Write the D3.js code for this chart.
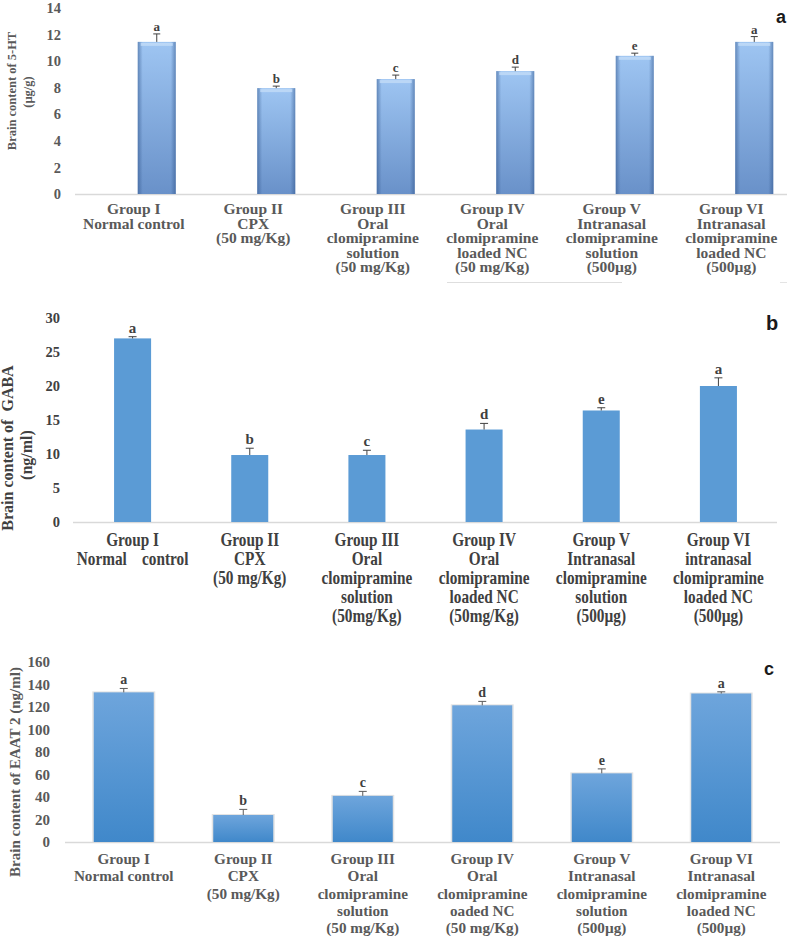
<!DOCTYPE html>
<html>
<head>
<meta charset="utf-8">
<script src="https://cdn.jsdelivr.net/npm/d3@7"></script>
<style>
  html, body { margin: 0; padding: 0; background: #ffffff; }
  svg { display: block; }
</style>
</head>
<body>
<svg id="chart" width="787" height="936"></svg>
<script>
// ---------------- DATA ----------------
const groupIds = ["G1", "G2", "G3", "G4", "G5", "G6"];

const labelsA = [
  ["Group I", "Normal control"],
  ["Group II", "CPX", "(50 mg/Kg)"],
  ["Group III", "Oral", "clomipramine", "solution", "(50 mg/Kg)"],
  ["Group IV", "Oral", "clomipramine", "loaded NC", "(50 mg/Kg)"],
  ["Group V", "Intranasal", "clomipramine", "solution", "(500µg)"],
  ["Group VI", "Intranasal", "clomipramine", "loaded NC", "(500µg)"]
];
const valuesA = [11.45, 7.97, 8.65, 9.25, 10.4, 11.45];
const errorsA = [0.6, 0.15, 0.3, 0.3, 0.2, 0.4];
const lettersA = ["a", "b", "c", "d", "e", "a"];
const ticksA = [0, 2, 4, 6, 8, 10, 12, 14];
const titleA = ["Brain content of 5-HT", "(µg/g)"];

const labelsB = [
  ["Group I", "Normal    control"],
  ["Group II", "CPX", "(50 mg/Kg)"],
  ["Group III", "Oral", "clomipramine", "solution", "(50mg/Kg)"],
  ["Group IV", "Oral", "clomipramine", "loaded NC", "(50mg/Kg)"],
  ["Group V", "Intranasal", "clomipramine", "solution", "(500µg)"],
  ["Group VI", "intranasal", "clomipramine", "loaded NC", "(500µg)"]
];
const valuesB = [27.0, 9.85, 9.85, 13.6, 16.4, 20.0];
const errorsB = [0.25, 1.0, 0.7, 0.9, 0.4, 1.2];
const lettersB = ["a", "b", "c", "d", "e", "a"];
const ticksB = [0, 5, 10, 15, 20, 25, 30];
const titleB = ["Brain content of  GABA", "(ng/ml)"];

const labelsC = [
  ["Group I", "Normal control"],
  ["Group II", "CPX", "(50 mg/Kg)"],
  ["Group III", "Oral", "clomipramine", "solution", "(50 mg/Kg)"],
  ["Group IV", "Oral", "clomipramine", "oaded NC", "(50 mg/Kg)"],
  ["Group V", "Intranasal", "clomipramine", "solution", "(500µg)"],
  ["Group VI", "Intranasal", "clomipramine", "loaded NC", "(500µg)"]
];
const valuesC = [133, 24, 41, 121.5, 61, 132];
const errorsC = [3.5, 5, 4, 3.5, 4, 1.5];
const lettersC = ["a", "b", "c", "d", "e", "a"];
const ticksC = [0, 20, 40, 60, 80, 100, 120, 140, 160];
const titleC = ["Brain content of EAAT 2 (ng/ml)"];

// ---------------- DRAWING ----------------
const svg = d3.select("#chart");
const SERIF = "'Liberation Serif', 'Times New Roman', serif";
const SANS = "'Liberation Sans', Arial, sans-serif";

const defs = svg.append("defs");
const gA = defs.append("linearGradient").attr("id", "gradA").attr("x1", 0).attr("y1", 0).attr("x2", 0).attr("y2", 1);
gA.append("stop").attr("offset", "0%").attr("stop-color", "#9ec5f2");
gA.append("stop").attr("offset", "100%").attr("stop-color", "#6991c9");
const gAe = defs.append("linearGradient").attr("id", "gradAedge").attr("x1", 0).attr("y1", 0).attr("x2", 1).attr("y2", 0);
gAe.append("stop").attr("offset", "0%").attr("stop-color", "#2b4f85").attr("stop-opacity", 0.5);
gAe.append("stop").attr("offset", "13%").attr("stop-color", "#2b4f85").attr("stop-opacity", 0.0);
gAe.append("stop").attr("offset", "87%").attr("stop-color", "#2b4f85").attr("stop-opacity", 0.0);
gAe.append("stop").attr("offset", "100%").attr("stop-color", "#2b4f85").attr("stop-opacity", 0.5);
const gC = defs.append("linearGradient").attr("id", "gradC").attr("x1", 0).attr("y1", 0).attr("x2", 0).attr("y2", 1);
gC.append("stop").attr("offset", "0%").attr("stop-color", "#6ea5dc");
gC.append("stop").attr("offset", "100%").attr("stop-color", "#4088ca");

function drawPanel(cfg) {
  const g = svg.append("g");
  const x = d3.scaleBand().domain(groupIds).range(cfg.xRange)
    .paddingInner(cfg.pad).paddingOuter(cfg.pad / 2);
  const y = d3.scaleLinear().domain(cfg.yDomain).range(cfg.yRange);

  const yAxis = d3.axisLeft(y).tickValues(cfg.ticks).tickSize(0).tickPadding(0);
  const ya = g.append("g").attr("transform", `translate(${cfg.tickX},0)`).call(yAxis);
  ya.select(".domain").remove();
  ya.selectAll("text")
    .attr("font-family", SERIF).attr("font-weight", "bold")
    .attr("font-size", cfg.tickSize).attr("fill", cfg.textColor);

  g.append("line")
    .attr("x1", cfg.lineX[0]).attr("x2", cfg.lineX[1])
    .attr("y1", y(0) + 0.5).attr("y2", y(0) + 0.5)
    .attr("stroke", "#d9d9d9").attr("stroke-width", 1.3);

  const data = groupIds.map((id, i) => ({
    id, v: cfg.values[i], e: cfg.errors[i], l: cfg.letters[i], lab: cfg.labels[i]
  }));

  if (cfg.style === "c") {
    g.selectAll("rect.sh").data(data).join("rect")
      .attr("x", d => x(d.id) - 1.5).attr("y", d => y(d.v) - 1)
      .attr("width", x.bandwidth() + 3).attr("height", d => y(0) - y(d.v) + 1)
      .attr("fill", "#e3e3e3");
  }
  g.selectAll("rect.bar").data(data).join("rect")
    .attr("x", d => x(d.id)).attr("y", d => y(d.v))
    .attr("width", x.bandwidth()).attr("height", d => y(0) - y(d.v))
    .attr("fill", cfg.fill);
  if (cfg.style === "a") {
    g.selectAll("rect.edge").data(data).join("rect")
      .attr("x", d => x(d.id)).attr("y", d => y(d.v))
      .attr("width", x.bandwidth()).attr("height", d => y(0) - y(d.v))
      .attr("fill", "url(#gradAedge)");
    g.selectAll("rect.top").data(data).join("rect")
      .attr("x", d => x(d.id) + 3).attr("y", d => y(d.v) + 1)
      .attr("width", x.bandwidth() - 6).attr("height", 3)
      .attr("fill", "#c3dcf8").attr("opacity", 0.8);
  }

  const cap = cfg.cap;
  data.forEach(d => {
    const cx = x(d.id) + x.bandwidth() / 2;
    g.append("line").attr("x1", cx).attr("x2", cx)
      .attr("y1", y(d.v)).attr("y2", y(d.v + d.e))
      .attr("stroke", cfg.errColor).attr("stroke-width", 1);
    g.append("line").attr("x1", cx - cap).attr("x2", cx + cap)
      .attr("y1", y(d.v + d.e)).attr("y2", y(d.v + d.e))
      .attr("stroke", cfg.errColor).attr("stroke-width", 1);
    g.append("text").attr("x", cx).attr("y", y(d.v + d.e) - cfg.letterGap)
      .attr("text-anchor", "middle")
      .attr("font-family", SERIF).attr("font-weight", "bold")
      .attr("font-size", cfg.letterSize).attr("fill", "#404040")
      .text(d.l);
    const lx = cx + cfg.labelDx;
    d.lab.forEach((t, k) => {
      g.append("text")
        .attr("transform", `translate(${lx},${cfg.labelY + k * cfg.labelLH}) scale(1,${cfg.labelScaleY})`)
        .attr("text-anchor", "middle")
        .attr("font-family", SERIF).attr("font-weight", "bold")
        .attr("font-size", cfg.labelSize).attr("fill", cfg.textColor)
        .style("white-space", "pre")
        .text(t);
    });
  });

  cfg.title.forEach((t, k) => {
    g.append("text")
      .attr("transform", `translate(${cfg.titleX[k]},${cfg.titleY[k]}) rotate(-90)`)
      .attr("text-anchor", "middle")
      .attr("font-family", SERIF).attr("font-weight", "bold")
      .attr("font-size", cfg.titleSize).attr("fill", cfg.textColor)
      .style("white-space", "pre")
      .text(t);
  });

  g.append("text").attr("x", cfg.panelPos[0]).attr("y", cfg.panelPos[1])
    .attr("text-anchor", "middle")
    .attr("font-family", SANS).attr("font-weight", "bold")
    .attr("font-size", cfg.panelSize).attr("fill", "#1a1a1a")
    .text(cfg.panel);
  return g;
}

drawPanel({
  style: "a", panel: "a", panelPos: [781, 23], panelSize: 18,
  values: valuesA, errors: errorsA, letters: lettersA, labels: labelsA, ticks: ticksA, title: titleA,
  xRange: [97, 814], pad: 0.682, yDomain: [0, 14], yRange: [194, 8],
  tickX: 61, tickSize: 14.5, lineX: [75, 787],
  fill: "url(#gradA)", errColor: "#404040", cap: 3.5, letterGap: 3, letterSize: 13,
  textColor: "#595959", labelY: 214, labelLH: 14.5, labelSize: 15.5, labelScaleY: 0.92, labelDx: -23,
  titleX: [16, 32], titleY: [91, 92], titleSize: 12.5
});
svg.append("line").attr("x1", 447).attr("x2", 622).attr("y1", 282.5).attr("y2", 282.5)
  .attr("stroke", "#dedede").attr("stroke-width", 1);
svg.append("line").attr("x1", 780).attr("x2", 787).attr("y1", 282.5).attr("y2", 282.5)
  .attr("stroke", "#e4e4e4").attr("stroke-width", 1);

drawPanel({
  style: "b", panel: "b", panelPos: [772, 330], panelSize: 20,
  values: valuesB, errors: errorsB, letters: lettersB, labels: labelsB, ticks: ticksB, title: titleB,
  xRange: [74, 777], pad: 0.684, yDomain: [0, 30], yRange: [522, 318],
  tickX: 60, tickSize: 14.5, lineX: [73, 777],
  fill: "#5b9bd5", errColor: "#404040", cap: 4, letterGap: 4, letterSize: 15,
  textColor: "#404040", labelY: 546, labelLH: 19, labelSize: 15.3, labelScaleY: 1.2, labelDx: 0,
  titleX: [13, 32], titleY: [448, 455], titleSize: 16
});

drawPanel({
  style: "c", panel: "c", panelPos: [769, 675], panelSize: 18,
  values: valuesC, errors: errorsC, letters: lettersC, labels: labelsC, ticks: ticksC, title: titleC,
  xRange: [64, 781], pad: 0.498, yDomain: [0, 160], yRange: [842, 662],
  tickX: 50, tickSize: 15, lineX: [65, 780],
  fill: "url(#gradC)", errColor: "#595959", cap: 4, letterGap: 4, letterSize: 14,
  textColor: "#595959", labelY: 864, labelLH: 17.3, labelSize: 15.2, labelScaleY: 1.0, labelDx: 0,
  titleX: [20], titleY: [772], titleSize: 15
});
</script>
</body>
</html>
